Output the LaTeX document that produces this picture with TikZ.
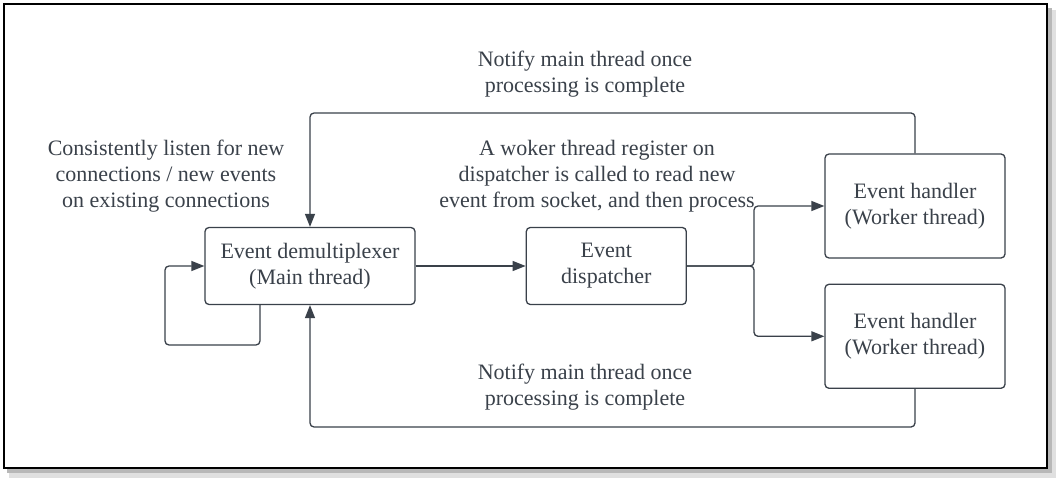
\documentclass[tikz,border=0pt]{standalone}
\usepackage{fontspec}
\setmainfont{Liberation Serif}
\usetikzlibrary{positioning,arrows.meta}
\definecolor{ink}{HTML}{3A414A}

\begin{document}
\begin{tikzpicture}[
        x=1pt, y=-1pt,
        node distance=110pt,
        box/.style={
            rectangle,
            draw=ink,
            line width=1.3pt,
            fill=white,
            text=ink,
            align=center,
            rounded corners=4pt,
            inner sep=4pt,
            font=\fontsize{22}{26}\selectfont
        },
        note/.style={
            text=ink,
            align=center,
            inner sep=0pt,
            font=\fontsize{22}{26}\selectfont
        },
        arrow/.style={
            -{Triangle[length=13pt,width=10pt]},
            line width=1.3pt,
            draw=ink,
            rounded corners=4pt
        }
    ]
        \useasboundingbox (0,0) rectangle (1061,484);
        % frame and its shadow
        \fill[black!12] (9,10) rectangle (1056,478);
        \fill[black!28] (7,8) rectangle (1052,473);
        \draw[line width=2.5pt, fill=white] (4,4) rectangle (1047,468);

        \node[box, minimum width=210pt, minimum height=77pt] (demux) at (310,266) {Event demultiplexer\\(Main thread)};
        \node[box, minimum width=160pt, minimum height=77pt, right=of demux] (disp) {Event\\dispatcher};
        \node[box, minimum width=180pt, minimum height=104pt] (h1) at (915,206) {Event handler\\(Worker thread)};
        \node[box, minimum width=180pt, minimum height=104pt, below=25pt of h1] (h2) {Event handler\\(Worker thread)};

        \node[note] (notifytop) at (585,74) {Notify main thread once\\processing is complete};
        \node[note] (listen) at (166,176) {Consistently listen for new\\connections / new events\\on existing connections};
        \node[note] (register) at (597,176) {A woker thread register on\\dispatcher is called to read new\\event from socket, and then process};
        \node[note] (notifybot) at (585,387) {Notify main thread once\\processing is complete};

        \coordinate (split) at (754,266);
        \coordinate (topbend) at (310,113);
        \coordinate (botbend) at (310,427);
        \coordinate (loop) at (165,345);

        \draw[arrow] (demux) -- (disp);
        \draw[arrow] (disp.east) -- (split) |- (h1);
        \draw[arrow] (disp.east) -- (split) |- (h2);
        \draw[arrow] (h1.north) |- (topbend) -- (demux.north);
        \draw[arrow] (h2.south) |- (botbend) -- (demux.south);
        \draw[arrow] ([xshift=-50pt]demux.south) |- (loop) |- (demux.west);
    \end{tikzpicture}
\end{document}
